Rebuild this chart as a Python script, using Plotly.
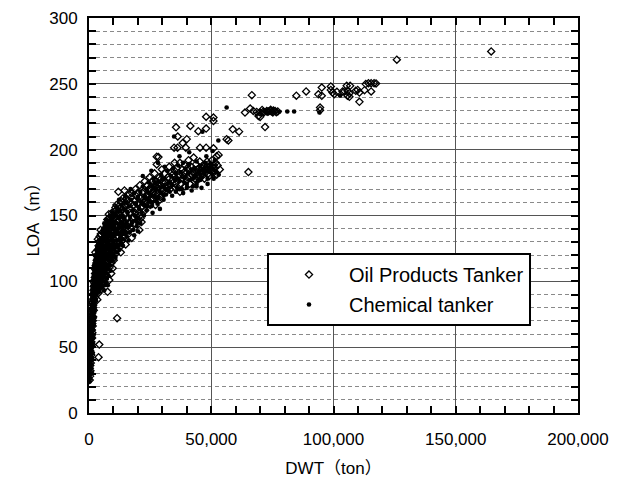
import plotly.graph_objects as go

# Ship particulars read as (DWT [t], LOA [m]) pairs, grouped by size range.

chem_small = [
    (250, 24), (300, 27), (350, 30), (400, 26), (420, 33), (480, 35), (500, 29), (550, 38),
    (600, 41), (620, 34), (680, 44), (700, 47), (750, 40), (800, 50), (820, 45), (880, 53),
    (900, 56), (950, 49), (1000, 58), (1020, 62), (1080, 55), (1100, 64), (1150, 67), (1200, 60),
    (1250, 70), (1300, 66), (1350, 73), (1400, 69), (1450, 76), (1480, 80), (600, 52), (700, 58),
    (900, 66), (1100, 74), (1300, 82), (500, 47), (800, 62), (1000, 71), (1200, 79), (1400, 87),
    (350, 38), (450, 43),
    (320, 31), (410, 36), (460, 40), (530, 44), (610, 48), (660, 51), (740, 55), (790, 58),
    (860, 61), (930, 64), (990, 67), (1060, 69), (1130, 72), (1210, 75), (1280, 77), (1360, 80),
    (1430, 83), (1520, 86), (1600, 89), (1700, 92), (1790, 95), (1880, 97), (1990, 100), (2100, 102),
    (2230, 105), (2350, 107), (2480, 110), (2620, 113), (2760, 115), (2900, 118),
    (560, 33), (740, 37), (880, 42), (1050, 47), (1220, 52), (1400, 57), (1600, 63), (1800, 67),
    (2000, 73), (2200, 77), (2500, 82), (2800, 86), (3100, 90), (3400, 94), (3700, 97),
    (1500, 72), (1550, 78), (1600, 84), (1650, 75), (1700, 81), (1750, 88), (1800, 79), (1850, 92),
    (1900, 85), (2000, 90), (2050, 83), (2100, 96), (2200, 88), (2250, 100), (2300, 93), (2400, 98),
    (2450, 86), (2500, 104), (2600, 95), (2700, 101), (2750, 108), (2800, 92), (2900, 105), (3000, 99),
    (3050, 112), (3100, 96), (3200, 108), (3300, 103), (3400, 115), (3500, 100), (3600, 110), (3700, 106),
    (3800, 118), (3900, 103), (4000, 112), (4100, 99), (4200, 116), (4300, 108), (4400, 121), (4500, 112),
    (4600, 104), (4700, 118), (4800, 110), (4900, 124), (5000, 115), (2200, 110), (2800, 119), (3300, 125),
    (3800, 128), (4300, 131), (1900, 104), (2400, 113),
]

chem_mid = [
    (5100, 107), (5200, 120), (5300, 112), (5450, 126), (5500, 117), (5600, 109), (5750, 122), (5800, 130),
    (5900, 115), (6000, 125), (6100, 111), (6200, 133), (6300, 119), (6450, 127), (6500, 114), (6600, 136),
    (6700, 122), (6800, 117), (6900, 130), (7000, 126), (7100, 138), (7200, 121), (7300, 133), (7400, 118),
    (7500, 128), (7600, 140), (7700, 124), (7800, 134), (7900, 120), (8000, 130), (8200, 126), (8300, 142),
    (8500, 131), (8600, 123), (8800, 137), (8900, 128), (9000, 145), (9200, 133), (9400, 126), (9500, 140),
    (9700, 131), (9800, 148), (9900, 136), (6300, 141), (7400, 146), (8500, 150), (5400, 137), (9100, 121),
    (10100, 129), (10300, 142), (10500, 135), (10700, 151), (10900, 138), (11000, 131), (11300, 156),
    (11500, 144), (11700, 137), (12000, 148), (12200, 140), (12500, 153), (12800, 136), (13000, 145),
    (13300, 158), (13500, 141), (13800, 150), (14000, 139), (14300, 155), (14600, 147), (15000, 160),
    (15300, 144), (15700, 152), (16000, 141), (16300, 157), (16800, 149), (17200, 162), (17500, 145),
    (18000, 154), (18400, 167), (18800, 150), (19200, 159), (19600, 145), (20000, 164), (12300, 162),
    (14800, 165), (17000, 170), (11600, 128), (15500, 137),
    (4200, 92), (4600, 95), (5000, 98), (5200, 101), (5500, 96), (5800, 104), (6000, 100), (6300, 107),
    (6500, 103), (6800, 110), (7000, 106), (7200, 113), (7500, 109), (7700, 97), (7900, 116), (8200, 112),
    (8400, 119), (8700, 115), (9000, 122), (9300, 118), (9600, 125), (9900, 121), (6200, 93), (6900, 99),
    (8000, 104), (8800, 108),
    (10200, 124), (10600, 119), (11000, 126), (11400, 122), (11800, 131), (12200, 127), (12700, 133),
    (13200, 129), (13700, 136), (14200, 132), (14800, 138), (15400, 134), (16000, 141), (16600, 137),
    (17300, 143), (18000, 139), (18800, 146), (19500, 142), (20300, 148), (21000, 144), (16200, 131),
    (18500, 135), (20000, 138),
    (5050, 128), (5350, 133), (5650, 139), (5950, 135), (6250, 144), (6550, 131), (6850, 141), (7150, 147),
    (7450, 136), (7750, 143), (8050, 138), (8350, 146), (8650, 141), (8950, 149), (9250, 144), (9550, 152),
    (9850, 127), (10150, 134), (10450, 139), (10750, 145), (11050, 150), (11350, 140), (11650, 153),
    (11950, 136), (12250, 143), (12550, 149), (12850, 154), (13150, 132), (13450, 138), (13750, 144),
    (14050, 148), (14350, 136), (14650, 142), (14950, 154), (6400, 97), (7300, 102), (8600, 112),
    (9600, 116), (10800, 118), (12400, 124), (13900, 127),
]

chem_large = [
    (20500, 155), (21000, 168), (21500, 160), (22000, 172), (22500, 150), (23000, 163), (23500, 170),
    (24000, 157), (24500, 175), (25000, 166), (25500, 160), (26000, 172), (26500, 178), (27000, 164),
    (27500, 170), (28000, 159), (28500, 176), (29000, 168), (29500, 181), (30000, 172), (30500, 165),
    (31000, 178), (31500, 170), (32000, 184), (32500, 175), (33000, 168), (33500, 180), (34000, 173),
    (34500, 186), (35000, 177), (22000, 180), (25500, 184), (28200, 190), (31000, 187), (34800, 210),
    (29000, 155), (26000, 152),
    (35500, 182), (36000, 171), (36500, 188), (37000, 176), (37500, 183), (38000, 170), (38500, 190),
    (39000, 179), (39500, 185), (40000, 174), (40500, 182), (41000, 189), (41500, 177), (42000, 184),
    (42500, 172), (43000, 186), (43500, 180), (44000, 191), (44500, 176), (45000, 183), (45500, 188),
    (46000, 179), (46400, 213.7), (46500, 185), (47000, 182), (47500, 190), (48000, 184), (48500, 178),
    (49000, 186), (49500, 183), (50000, 189), (50500, 181), (51000, 185), (51500, 192), (52000, 183),
    (52900, 207), (37000, 195), (41000, 198), (44000, 172), (48000, 195), (50500, 199),
    (21500, 152), (22500, 158), (23500, 154), (24500, 161), (25500, 157), (26500, 165), (27500, 161),
    (28500, 163), (29500, 167), (30500, 162), (31500, 166), (32500, 169), (34000, 165), (35500, 168),
    (37000, 170), (38500, 167), (40000, 171), (42000, 169), (44000, 174), (46000, 171), (24000, 168),
    (27000, 175), (30000, 178), (33000, 175), (36000, 178), (39000, 175), (42500, 178), (45500, 177),
    (48500, 174), (51000, 178), (53000, 181),
    (56300, 232), (81100, 229), (83900, 229), (94250, 228.2), (77800, 228.8), (102700, 240.9),
]

oil_small = [
    (300, 25), (380, 31), (450, 28), (520, 36), (580, 32), (650, 42), (720, 38), (780, 46),
    (850, 51), (920, 44), (980, 54), (1050, 59), (1120, 52), (1180, 63), (1260, 57), (1320, 68),
    (1380, 61), (1460, 72), (1500, 66), (700, 53), (950, 60), (1150, 71), (1350, 78), (560, 40),
    (830, 57), (1250, 84), (1450, 90),
    (330, 34), (430, 41), (540, 47), (640, 45), (710, 50), (800, 54), (870, 58), (960, 63),
    (1040, 66), (1110, 68), (1190, 74), (1270, 73), (1340, 76), (1420, 79), (1490, 84), (1580, 82),
    (1680, 86), (1780, 90), (1870, 93), (1970, 96), (2080, 99), (2190, 97), (2320, 101), (2470, 106),
    (2590, 109), (2710, 106), (2880, 111), (3020, 114), (3180, 113), (3330, 119), (3480, 117), (3620, 124),
    (3780, 121), (3920, 127), (4080, 130), (4230, 124), (4380, 134), (4560, 127), (4720, 139), (4900, 131),
    (1550, 70), (1650, 80), (1750, 73), (1850, 87), (1950, 78), (2050, 94), (2150, 85), (2250, 91),
    (2350, 103), (2450, 95), (2550, 88), (2650, 99), (2750, 112), (2850, 97), (2950, 108), (3050, 93),
    (3150, 116), (3250, 104), (3350, 97), (3450, 111), (3550, 120), (3650, 102), (3750, 113), (3850, 108),
    (3950, 123), (4050, 106), (4150, 119), (4250, 111), (4350, 126), (4450, 104), (4550, 117), (4650, 129),
    (4750, 113), (4850, 121), (4950, 108), (2600, 122), (3600, 132), (4800, 136),
    (3400, 86), (3800, 91), (4400, 95), (4700, 100),
    (3900, 42.4), (4200, 52), (11500, 72),
]

oil_mid = [
    (5150, 119), (5350, 124), (5550, 111), (5700, 132), (5850, 118), (6050, 129), (6250, 121), (6400, 137),
    (6550, 125), (6750, 133), (6950, 120), (7150, 131), (7350, 142), (7550, 124), (7650, 147), (7850, 136),
    (8050, 127), (8250, 139), (8450, 133), (8700, 145), (8950, 135), (9150, 141), (9350, 152), (9600, 137),
    (9850, 144), (5300, 103), (6600, 140), (8100, 151),
    (5100, 94), (5400, 106), (5700, 99), (6100, 108), (6400, 102), (6700, 112), (7100, 104), (7400, 115),
    (7800, 108), (8100, 118), (8500, 111), (8900, 120), (9200, 114), (9500, 127), (9800, 117), (7600, 92),
    (8300, 101), (9100, 106), (9700, 110),
    (10200, 137), (10400, 148), (10600, 131), (10800, 156), (11100, 143), (11400, 150), (11800, 146),
    (12100, 157), (12400, 139), (12700, 150), (13100, 161), (13400, 147), (13700, 155), (14100, 144),
    (14400, 161), (14900, 151), (15200, 163), (15600, 148), (15900, 158), (16400, 166), (16700, 152),
    (17100, 159), (17600, 167), (18200, 149), (18600, 161), (19000, 170), (19500, 155), (19800, 167),
    (14500, 169), (20600, 139), (7500, 147), (12000, 168),
    (10100, 116), (10500, 126), (10900, 121), (11300, 129), (11700, 124), (12100, 134), (12600, 126),
    (13100, 139), (13600, 131), (14100, 141), (14700, 134), (15300, 143), (15900, 139), (16500, 145),
    (17200, 140), (17900, 148), (18600, 144), (19300, 150), (20100, 146), (20900, 150), (21500, 145),
    (13000, 122), (15000, 128), (17500, 133),
    (10400, 153), (11200, 158), (12000, 152), (12900, 156), (13800, 163), (14700, 157), (15600, 161),
    (16500, 155), (17400, 164), (18300, 158), (19200, 165), (16800, 144), (18900, 152),
]

oil_large = [
    (20300, 160), (20800, 173), (21300, 164), (21800, 157), (22300, 168), (22800, 176), (23300, 161),
    (23800, 173), (24300, 166), (24800, 179), (25300, 169), (25800, 176), (26300, 163), (26800, 182),
    (27300, 172), (27700, 194.7), (27700, 188.8), (28300, 167), (28800, 179), (29300, 173), (29800, 185),
    (30300, 169), (30800, 182), (31300, 175), (31800, 171), (32300, 179), (32800, 187), (33300, 173),
    (33800, 183), (34300, 177), (34800, 201.5), (28400, 194.4), (35000, 190),
    (35300, 174), (35600, 217), (35800, 186), (36200, 201.5), (36700, 179), (37200, 190), (37700, 174),
    (38200, 185), (38300, 205), (38700, 180), (39200, 188), (39600, 201.5), (39700, 176), (40200, 186),
    (40700, 192), (41200, 180), (41450, 218), (41800, 187), (42300, 183), (42800, 194), (43300, 178),
    (43800, 189), (44300, 185), (44700, 214), (44800, 181), (45300, 191), (45400, 201.5), (45800, 184),
    (46300, 180), (46800, 188), (47300, 185), (47900, 225), (47900, 216), (47900, 201.5), (48300, 191),
    (48800, 182), (49300, 187), (49800, 184), (50300, 192), (50900, 224.4), (50900, 221.8), (50900, 201),
    (51300, 186), (51800, 190), (52200, 195), (52600, 188), (53000, 196), (36300, 210), (40000, 208),
    (21200, 156), (22200, 162), (23200, 159), (24200, 164), (25200, 162), (26200, 168), (27200, 158),
    (28200, 171), (29200, 164), (30200, 175), (31200, 168), (32200, 173), (33200, 170), (34200, 181),
    (35200, 171), (36200, 176), (37200, 168), (38200, 178), (39200, 172), (40200, 179), (41200, 174),
    (42200, 181), (43200, 176), (44200, 183), (45200, 179), (46200, 186), (47200, 178), (48200, 187),
    (49200, 180), (50200, 185), (51200, 183), (52200, 181), (53500, 185),
    (20100, 158), (21000, 163), (21900, 167), (22800, 161), (23700, 166), (24600, 170), (25500, 172),
    (26400, 167), (27300, 176), (28200, 174), (29100, 177), (30000, 170), (21200, 148), (23000, 154),
    (25000, 158), (27000, 166), (29000, 162), (31000, 172), (33000, 178), (35000, 184), (37000, 181),
    (39000, 183), (41000, 185), (43000, 183), (45000, 186), (47000, 187), (49000, 189), (51000, 188),
    (44500, 179), (46500, 182), (48500, 185),
]

oil_panamax = [
    (56300, 208), (57000, 207), (58800, 215.5), (61400, 213.7), (65200, 183), (66600, 241.4),
    (63800, 228.2), (65900, 231.2), (67200, 229.4), (68600, 228.7), (70000, 228.2), (71300, 229),
    (72700, 229.4), (73400, 229), (74100, 229.4), (74800, 229), (75400, 229.7), (76100, 229.4),
    (77200, 229), (71500, 228.2), (72900, 228.8), (74300, 230.3), (75200, 228.3), (76600, 228.5),
    (70800, 230.2), (69300, 225.6), (70000, 224.9), (72000, 217.2),
]

oil_aframax = [
    (84800, 241), (88800, 244.2), (95200, 247.2), (93800, 242), (95200, 240.9), (94500, 232),
    (94500, 230), (98900, 248), (98900, 245.4), (99600, 243.4), (100300, 242.1), (101400, 243.9),
    (103700, 244.2), (104500, 244.4), (105400, 248.5), (106800, 248.5), (105700, 244.7), (106500, 242.9),
    (105700, 240.9), (106500, 240.1), (109100, 244.7), (109900, 245.4), (110600, 243.4), (110600, 236.3),
    (112700, 245.2), (113200, 249.8), (114300, 250.5), (115400, 250.5), (116600, 250.5), (117400, 250.3),
    (115400, 244.2), (125900, 268.3), (164500, 274.6),
]


def columns(*groups):
    pts = [p for g in groups for p in g]
    return [p[0] for p in pts], [p[1] for p in pts]


oil_dwt, oil_loa = columns(oil_small, oil_mid, oil_large, oil_panamax, oil_aframax)
chem_dwt, chem_loa = columns(chem_small, chem_mid, chem_large)

FONT = "Liberation Sans, Arial, Noto Sans CJK JP, sans-serif"

fig = go.Figure()
fig.add_trace(go.Scatter(
    x=oil_dwt, y=oil_loa, mode="markers", name="Oil Products Tanker",
    legendgroup="oil",
    marker=dict(symbol="diamond-open", size=5.5, color="black", line=dict(width=1.3, color="black")),
))
fig.add_trace(go.Scatter(
    x=chem_dwt, y=chem_loa, mode="markers", name="Chemical tanker",
    legendgroup="chem",
    marker=dict(symbol="circle", size=4.6, color="black", line=dict(width=0)),
))

fig.update_layout(
    width=622, height=478,
    margin=dict(l=89, r=44, t=18, b=65, autoexpand=False),
    paper_bgcolor="white", plot_bgcolor="white",
    font=dict(family=FONT, size=17, color="black"),
    showlegend=True,
    legend=dict(
        x=0.364, y=0.405, xanchor="left", yanchor="top",
        bgcolor="white", bordercolor="black", borderwidth=2,
        font=dict(size=20, color="black"),
        itemwidth=70, traceorder="grouped", tracegroupgap=1,
    ),
    xaxis=dict(
        range=[0, 200000], tick0=0, dtick=50000, tickformat=",d",
        showgrid=True, gridcolor="#555555", gridwidth=1,
        ticks="inside", ticklen=7, tickwidth=2, tickcolor="black",
        minor=dict(dtick=10000, ticks="inside", ticklen=7, tickwidth=2, tickcolor="black", showgrid=False),
        showline=True, linecolor="black", linewidth=2, mirror="allticks",
        zeroline=False, ticklabelstandoff=10, automargin=False,
        title=dict(text="DWT（ton）", standoff=18, font=dict(size=17)),
    ),
    yaxis=dict(
        range=[0, 300], tick0=0, dtick=50,
        showgrid=True, gridcolor="#555555", gridwidth=1,
        ticks="inside", ticklen=7, tickwidth=2, tickcolor="black",
        minor=dict(dtick=10, ticks="inside", ticklen=7, tickwidth=2, tickcolor="black",
                   showgrid=True, gridcolor="#8a8a8a", gridwidth=1, griddash="4px,3px"),
        showline=True, linecolor="black", linewidth=2, mirror="allticks",
        zeroline=False, ticklabelstandoff=6, automargin=False,
        title=dict(text="LOA（m）", standoff=5, font=dict(size=17)),
    ),
)

fig.write_html("out.html")
